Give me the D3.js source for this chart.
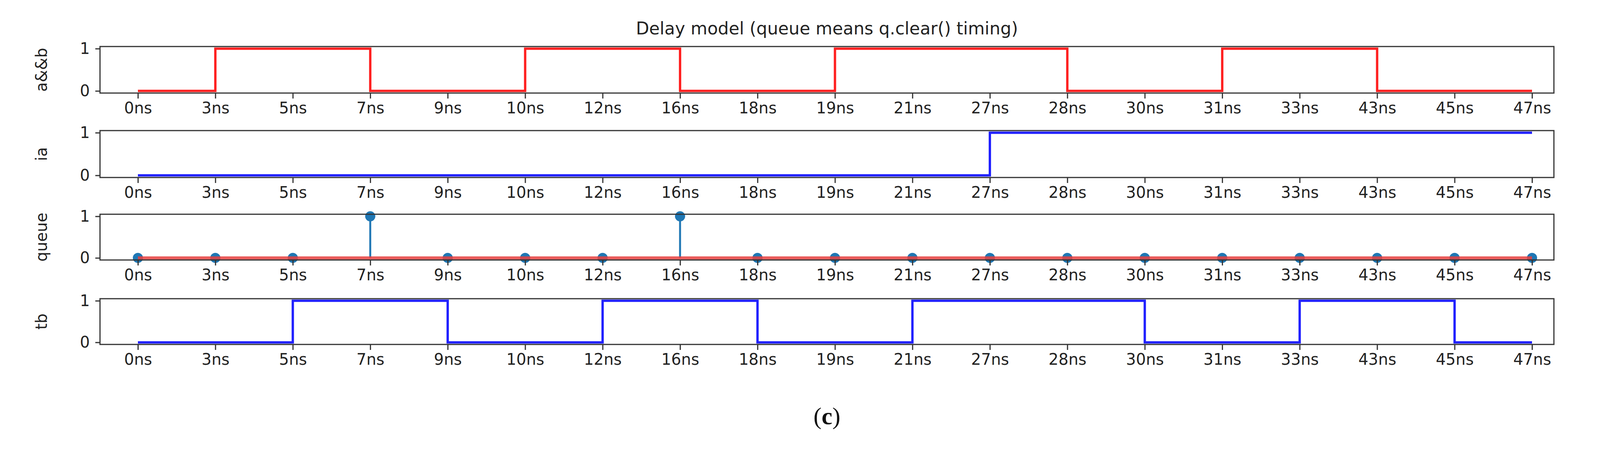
<!DOCTYPE html>
<html><head><meta charset="utf-8">
<script src="https://cdn.jsdelivr.net/npm/d3@7"></script>
<style>body{margin:0;background:#fff}</style>
</head><body><div id="chart"></div>
<script>
// tick labels (categorical time points)
const times = ['0ns','3ns','5ns','7ns','9ns','10ns','12ns','16ns','18ns','19ns','21ns','27ns','28ns','30ns','31ns','33ns','43ns','45ns','47ns'];
const ab    = [0,1,1,0,0,1,1,0,0,1,1,1,0,0,1,1,0,0,0];
const ia    = [0,0,0,0,0,0,0,0,0,0,0,1,1,1,1,1,1,1,1];
const queue = [0,0,0,1,0,0,0,1,0,0,0,0,0,0,0,0,0,0,0];
const tb    = [0,0,1,1,0,0,1,1,0,0,1,1,1,0,0,1,1,0,0];

const W = 4136, H = 1151;
const svg = d3.select('#chart').append('svg').attr('width', W).attr('height', H)
    .style('font-family', 'DejaVu Sans');

const left = 256, right = 3978;
const x = d3.scaleLinear().domain([0, times.length - 1]).range([353, 3922]);

const panels = [
    {label: 'a&&b', data: ab, type: 'step', color: '#ff2020', top: 119, bottom: 238},
    {label: 'ia', data: ia, type: 'step', color: '#2020ff', top: 334, bottom: 454},
    {label: 'queue', data: queue, type: 'stem', color: '#1f77b4', top: 548, bottom: 665},
    {label: 'tb', data: tb, type: 'step', color: '#2020ff', top: 764, bottom: 881}
];

svg.append('text').attr('x', (left + right) / 2).attr('y', 88).attr('text-anchor', 'middle')
    .attr('font-size', 44).attr('fill', '#222').text('Delay model (queue means q.clear() timing)');

panels.forEach(p => {
    const y = d3.scaleLinear().domain([-0.05, 1.05]).range([p.bottom, p.top]);
    const g = svg.append('g');
    const idx = d3.range(times.length);

    if (p.type === 'step') {
        const line = d3.line().x(i => x(i)).y(i => y(p.data[i])).curve(d3.curveStepAfter);
        g.append('path').attr('d', line(idx)).attr('fill', 'none')
            .attr('stroke', p.color).attr('stroke-width', 6);
    } else {
        g.selectAll('line.stem').data(idx).enter().append('line')
            .attr('x1', i => x(i)).attr('x2', i => x(i))
            .attr('y1', y(0)).attr('y2', i => y(p.data[i]))
            .attr('stroke', p.color).attr('stroke-width', 5);
        g.selectAll('circle').data(idx).enter().append('circle')
            .attr('cx', i => x(i)).attr('cy', i => y(p.data[i])).attr('r', 13)
            .attr('fill', p.color);
        g.append('line').attr('x1', x(0)).attr('x2', x(times.length - 1))
            .attr('y1', y(0)).attr('y2', y(0))
            .attr('stroke', '#e8403f').attr('stroke-width', 8).attr('opacity', 0.85);
    }

    // frame
    g.append('rect').attr('x', left).attr('y', p.top)
        .attr('width', right - left).attr('height', p.bottom - p.top)
        .attr('fill', 'none').attr('stroke', '#333').attr('stroke-width', 3);

    const xa = g.append('g').attr('transform', `translate(0,${p.bottom})`)
        .call(d3.axisBottom(x).tickValues(idx).tickFormat(i => times[i]).tickSize(14).tickPadding(10));
    xa.select('.domain').remove();
    xa.selectAll('line').attr('stroke', '#333').attr('stroke-width', 3);
    xa.selectAll('text').attr('font-size', 40).attr('fill', '#222').attr('font-family', 'DejaVu Sans');

    const ya = g.append('g').attr('transform', `translate(${left},0)`)
        .call(d3.axisLeft(y).tickValues([0, 1]).tickFormat(d3.format('d')).tickSize(12).tickPadding(14));
    ya.select('.domain').remove();
    ya.selectAll('line').attr('stroke', '#333').attr('stroke-width', 3);
    ya.selectAll('text').attr('font-size', 40).attr('fill', '#222').attr('font-family', 'DejaVu Sans');

    g.append('text').attr('transform', `translate(120,${(p.top + p.bottom) / 2}) rotate(-90)`)
        .attr('text-anchor', 'middle').attr('font-size', 40).attr('fill', '#222').text(p.label);
});

svg.append('text').attr('x', (left + right) / 2).attr('y', 1085).attr('text-anchor', 'middle')
    .attr('font-size', 62).attr('font-family', 'Liberation Serif').attr('fill', '#111')
    .html('(<tspan font-weight="bold">c</tspan>)');
</script>
</body></html>
